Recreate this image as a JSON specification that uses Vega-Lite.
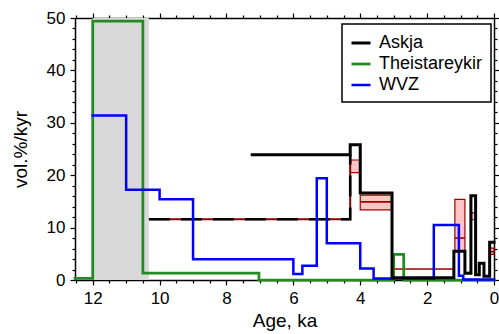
{
  "$schema": "https://vega.github.io/schema/vega-lite/v6.json",
  "width": 419,
  "height": 262,
  "autosize": "none",
  "padding": {"left": 75, "top": 18, "right": 5, "bottom": 54},
  "config": {
    "view": {"stroke": null},
    "font": "Liberation Sans",
    "legend": {"strokeWidth": 1.5},
    "axis": {
      "domainColor": "black", "tickColor": "black", "labelColor": "black", "titleColor": "black",
      "labelFont": "Liberation Sans", "titleFont": "Liberation Sans",
      "labelFontSize": 17, "titleFontSize": 19, "titleFontWeight": "normal",
      "grid": false, "domainWidth": 1.5, "tickWidth": 1.2, "labelFlush": false, "labelOverlap": false
    }
  },
  "datasets": {
    "shade": [{"a1": 12, "a2": 10.32, "lo": 0, "hi": 50}],
    "boxes": [
      {"a1": 4.3, "a2": 4.0, "lo": 20.5, "hi": 22.9},
      {"a1": 4.0, "a2": 3.05, "lo": 13.4, "hi": 16.2},
      {"a1": 1.17, "a2": 0.87, "lo": 5.6, "hi": 15.4},
      {"a1": 0.69, "a2": 0.55, "lo": 11.5, "hi": 12.8},
      {"a1": 0.13, "a2": 0.0, "lo": 4.9, "hi": 6.1}
    ],
    "mids": [
      {"a1": 7.23, "a2": 4.3, "v": 23.8},
      {"a1": 4.0, "a2": 3.05, "v": 14.9},
      {"a1": 3.05, "a2": 1.17, "v": 2.1},
      {"a1": 1.17, "a2": 0.87, "v": 8.0},
      {"a1": 0.87, "a2": 0.69, "v": 1.4},
      {"a1": 0.13, "a2": 0.0, "v": 5.4}
    ],
    "dash": [
      {"i": 1, "a": 10.32, "v": 11.6},
      {"i": 2, "a": 4.3, "v": 11.6},
      {"i": 3, "a": 4.3, "v": 23.9}
    ],
    "lines": [
      {"s": "Theistareykir", "i": 1, "a": 12.53, "v": 0.3},
      {"s": "Theistareykir", "i": 2, "a": 12, "v": 0.3},
      {"s": "Theistareykir", "i": 3, "a": 12, "v": 49.4},
      {"s": "Theistareykir", "i": 4, "a": 10.5, "v": 49.4},
      {"s": "Theistareykir", "i": 5, "a": 10.5, "v": 1.3},
      {"s": "Theistareykir", "i": 6, "a": 7.03, "v": 1.3},
      {"s": "Theistareykir", "i": 7, "a": 7.03, "v": 0},
      {"s": "Theistareykir", "i": 8, "a": 3.0, "v": 0},
      {"s": "Theistareykir", "i": 9, "a": 3.0, "v": 4.9},
      {"s": "Theistareykir", "i": 10, "a": 2.7, "v": 4.9},
      {"s": "Theistareykir", "i": 11, "a": 2.7, "v": 0},
      {"s": "Theistareykir", "i": 12, "a": 0, "v": 0},
      {"s": "WVZ", "i": 1, "a": 12, "v": 31.4},
      {"s": "WVZ", "i": 2, "a": 11, "v": 31.4},
      {"s": "WVZ", "i": 3, "a": 11, "v": 17.2},
      {"s": "WVZ", "i": 4, "a": 10, "v": 17.2},
      {"s": "WVZ", "i": 5, "a": 10, "v": 15.4},
      {"s": "WVZ", "i": 6, "a": 9, "v": 15.4},
      {"s": "WVZ", "i": 7, "a": 9, "v": 3.95},
      {"s": "WVZ", "i": 8, "a": 6.0, "v": 3.95},
      {"s": "WVZ", "i": 9, "a": 6.0, "v": 1.15},
      {"s": "WVZ", "i": 10, "a": 5.73, "v": 1.15},
      {"s": "WVZ", "i": 11, "a": 5.73, "v": 2.7},
      {"s": "WVZ", "i": 12, "a": 5.3, "v": 2.7},
      {"s": "WVZ", "i": 13, "a": 5.3, "v": 19.4},
      {"s": "WVZ", "i": 14, "a": 5.0, "v": 19.4},
      {"s": "WVZ", "i": 15, "a": 5.0, "v": 7.0},
      {"s": "WVZ", "i": 16, "a": 4.0, "v": 7.0},
      {"s": "WVZ", "i": 17, "a": 4.0, "v": 2.2},
      {"s": "WVZ", "i": 18, "a": 3.6, "v": 2.2},
      {"s": "WVZ", "i": 19, "a": 3.6, "v": 0.3},
      {"s": "WVZ", "i": 20, "a": 1.8, "v": 0.3},
      {"s": "WVZ", "i": 21, "a": 1.8, "v": 10.5},
      {"s": "WVZ", "i": 22, "a": 1.05, "v": 10.5},
      {"s": "WVZ", "i": 23, "a": 1.05, "v": 0.8},
      {"s": "WVZ", "i": 24, "a": 0.92, "v": 0.8},
      {"s": "WVZ", "i": 25, "a": 0.92, "v": 0.1},
      {"s": "WVZ", "i": 26, "a": 0, "v": 0.1},
      {"s": "Askja", "i": 1, "a": 7.23, "v": 23.9},
      {"s": "Askja", "i": 2, "a": 4.3, "v": 23.9},
      {"s": "Askja", "i": 3, "a": 4.3, "v": 25.8},
      {"s": "Askja", "i": 4, "a": 4.0, "v": 25.8},
      {"s": "Askja", "i": 5, "a": 4.0, "v": 16.6},
      {"s": "Askja", "i": 6, "a": 3.05, "v": 16.6},
      {"s": "Askja", "i": 7, "a": 3.05, "v": 0.45},
      {"s": "Askja", "i": 8, "a": 1.2, "v": 0.45},
      {"s": "Askja", "i": 9, "a": 1.2, "v": 5.5},
      {"s": "Askja", "i": 10, "a": 0.87, "v": 5.5},
      {"s": "Askja", "i": 11, "a": 0.87, "v": 1.3},
      {"s": "Askja", "i": 12, "a": 0.69, "v": 1.3},
      {"s": "Askja", "i": 13, "a": 0.69, "v": 16.1},
      {"s": "Askja", "i": 14, "a": 0.55, "v": 16.1},
      {"s": "Askja", "i": 15, "a": 0.55, "v": 1.0},
      {"s": "Askja", "i": 16, "a": 0.44, "v": 1.0},
      {"s": "Askja", "i": 17, "a": 0.44, "v": 3.2},
      {"s": "Askja", "i": 18, "a": 0.3, "v": 3.2},
      {"s": "Askja", "i": 19, "a": 0.3, "v": 0.7},
      {"s": "Askja", "i": 20, "a": 0.13, "v": 0.7},
      {"s": "Askja", "i": 21, "a": 0.13, "v": 7.2},
      {"s": "Askja", "i": 22, "a": 0, "v": 7.2}
    ]
  },
  "resolve": {"axis": {"x": "independent", "y": "independent"}},
  "layer": [
    {
      "data": {"name": "shade"},
      "mark": {"type": "rect", "fill": "#d9d9d9"},
      "encoding": {
        "x": {"field": "a1", "type": "quantitative", "scale": {"domain": [0, 12.53], "reverse": true, "nice": false, "zero": false},
          "axis": {"orient": "bottom", "values": [0, 2, 4, 6, 8, 10, 12], "format": "d", "tickSize": 5, "labelPadding": 5, "title": "Age, ka", "titlePadding": 5}},
        "x2": {"field": "a2"},
        "y": {"field": "lo", "type": "quantitative", "scale": {"domain": [0, 50], "nice": false},
          "axis": {"orient": "left", "values": [0, 10, 20, 30, 40, 50], "tickSize": 5, "labelPadding": 5, "title": "vol.%/kyr", "titlePadding": 16}},
        "y2": {"field": "hi"}
      }
    },
    {
      "data": {"name": "shade"},
      "mark": {"type": "rect", "opacity": 0},
      "encoding": {
        "x": {"field": "a1", "type": "quantitative", "scale": {"domain": [0, 12.53], "reverse": true, "nice": false, "zero": false},
          "axis": {"orient": "bottom", "values": [0.5, 1, 1.5, 2.5, 3, 3.5, 4.5, 5, 5.5, 6.5, 7, 7.5, 8.5, 9, 9.5, 10.5, 11, 11.5, 12.5], "tickSize": 3, "labels": false, "domain": false, "title": null}},
        "x2": {"field": "a2"},
        "y": {"field": "lo", "type": "quantitative", "scale": {"domain": [0, 50], "nice": false},
          "axis": {"orient": "left", "values": [2, 4, 6, 8, 12, 14, 16, 18, 22, 24, 26, 28, 32, 34, 36, 38, 42, 44, 46, 48], "tickSize": 3, "labels": false, "domain": false, "title": null}},
        "y2": {"field": "hi"}
      }
    },
    {
      "data": {"name": "shade"},
      "mark": {"type": "rect", "opacity": 0},
      "encoding": {
        "x": {"field": "a1", "type": "quantitative", "scale": {"domain": [0, 12.53], "reverse": true, "nice": false, "zero": false},
          "axis": {"orient": "top", "values": [0, 2, 4, 6, 8, 10, 12], "tickSize": 5, "labels": false, "title": null}},
        "x2": {"field": "a2"},
        "y": {"field": "lo", "type": "quantitative", "scale": {"domain": [0, 50], "nice": false},
          "axis": {"orient": "right", "values": [0, 10, 20, 30, 40, 50], "tickSize": 5, "labels": false, "title": null}},
        "y2": {"field": "hi"}
      }
    },
    {
      "data": {"name": "shade"},
      "mark": {"type": "rect", "opacity": 0},
      "encoding": {
        "x": {"field": "a1", "type": "quantitative", "scale": {"domain": [0, 12.53], "reverse": true, "nice": false, "zero": false},
          "axis": {"orient": "top", "values": [0.5, 1, 1.5, 2.5, 3, 3.5, 4.5, 5, 5.5, 6.5, 7, 7.5, 8.5, 9, 9.5, 10.5, 11, 11.5, 12.5], "tickSize": 3, "labels": false, "domain": false, "title": null}},
        "x2": {"field": "a2"},
        "y": {"field": "lo", "type": "quantitative", "scale": {"domain": [0, 50], "nice": false},
          "axis": {"orient": "right", "values": [2, 4, 6, 8, 12, 14, 16, 18, 22, 24, 26, 28, 32, 34, 36, 38, 42, 44, 46, 48], "tickSize": 3, "labels": false, "domain": false, "title": null}},
        "y2": {"field": "hi"}
      }
    },
    {
      "data": {"name": "boxes"},
      "mark": {"type": "rect", "fill": "#ffc4c4", "stroke": "#9b0000", "strokeWidth": 1.2},
      "encoding": {
        "x": {"field": "a1", "type": "quantitative", "scale": {"domain": [0, 12.53], "reverse": true, "nice": false, "zero": false}, "axis": null},
        "x2": {"field": "a2"},
        "y": {"field": "lo", "type": "quantitative", "scale": {"domain": [0, 50], "nice": false}, "axis": null},
        "y2": {"field": "hi"}
      }
    },
    {
      "data": {"name": "mids"},
      "mark": {"type": "rule", "color": "#9b0000", "strokeWidth": 1.6},
      "encoding": {
        "x": {"field": "a1", "type": "quantitative", "scale": {"domain": [0, 12.53], "reverse": true, "nice": false, "zero": false}, "axis": null},
        "x2": {"field": "a2"},
        "y": {"field": "v", "type": "quantitative", "scale": {"domain": [0, 50], "nice": false}, "axis": null}
      }
    },
    {
      "data": {"name": "dash"},
      "mark": {"type": "line", "color": "#8b0000", "strokeWidth": 2, "strokeJoin": "miter"},
      "encoding": {
        "x": {"field": "a", "type": "quantitative", "scale": {"domain": [0, 12.53], "reverse": true, "nice": false, "zero": false}, "axis": null},
        "y": {"field": "v", "type": "quantitative", "scale": {"domain": [0, 50], "nice": false}, "axis": null},
        "order": {"field": "i"}
      }
    },
    {
      "data": {"name": "dash"},
      "mark": {"type": "line", "color": "black", "strokeWidth": 2.6, "strokeDash": [21, 11], "strokeJoin": "miter"},
      "encoding": {
        "x": {"field": "a", "type": "quantitative", "scale": {"domain": [0, 12.53], "reverse": true, "nice": false, "zero": false}, "axis": null},
        "y": {"field": "v", "type": "quantitative", "scale": {"domain": [0, 50], "nice": false}, "axis": null},
        "order": {"field": "i"}
      }
    },
    {
      "data": {"name": "lines"},
      "mark": {"type": "line", "strokeJoin": "miter", "strokeCap": "square"},
      "encoding": {
        "x": {"field": "a", "type": "quantitative", "scale": {"domain": [0, 12.53], "reverse": true, "nice": false, "zero": false}, "axis": null},
        "y": {"field": "v", "type": "quantitative", "scale": {"domain": [0, 50], "nice": false}, "axis": null},
        "color": {"field": "s", "type": "nominal",
          "scale": {"domain": ["Askja", "Theistareykir", "WVZ"], "range": ["#000000", "#228b22", "#0000ff"]},
          "legend": {"orient": "none", "legendX": 267, "legendY": 6, "title": null, "symbolType": "stroke", "symbolSize": 361, "symbolStrokeWidth": 3,
            "labelFontSize": 18, "labelFont": "Liberation Sans", "labelColor": "black", "padding": 8, "strokeColor": "black",
            "fillColor": "white", "rowPadding": 1, "labelOffset": 7, "labelLimit": 0}},
        "strokeWidth": {"field": "s", "type": "nominal", "scale": {"domain": ["Askja", "Theistareykir", "WVZ"], "range": [3, 2.5, 2.5]}, "legend": null},
        "order": {"field": "i"}
      }
    }
  ]
}
